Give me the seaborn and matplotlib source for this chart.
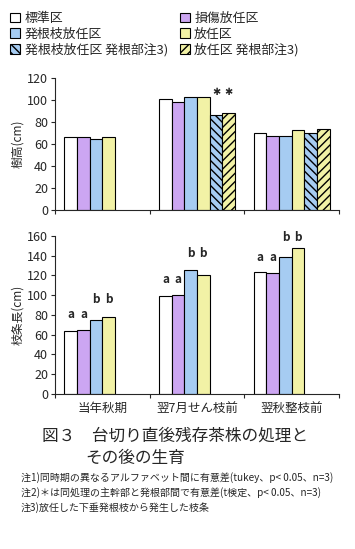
"""Figure 3: treatment of the remaining tea stumps after cutting and later growth."""
import matplotlib
matplotlib.use('Agg')
import matplotlib.pyplot as plt
import numpy as np
import pandas as pd
import seaborn as sns

sns.set_style('ticks')
plt.rcParams['font.family'] = ['Noto Sans CJK JP', 'DejaVu Sans']
plt.rcParams['hatch.linewidth'] = 1.0

nan = np.nan
periods = ['当年秋期', '翌7月せん枝前', '翌秋整枝前']
treatments = ['標準区', '損傷放任区', '発根枝放任区', '放任区',
              '発根枝放任区 発根部注3)', '放任区 発根部注3)']
colors = ['#FFFFFF', '#CC99FF', '#99CCFF', '#FFFF99', '#99CCFF', '#FFFF99']
hatches = ['', '', '', '', '\\\\\\\\', '////']

# 樹高 (cm)
height_std = [66.3, 100.9, 69.9]
height_dmg = [66.3, 98.2, 67.2]
height_root = [64.4, 102.7, 67.2]
height_free = [66.3, 102.7, 72.6]
height_root_part = [nan, 86.6, 69.9]
height_free_part = [nan, 88.4, 73.5]

# 枝条長 (cm)
length_std = [63.4, 98.7, 123.0]
length_dmg = [64.4, 99.8, 122.0]
length_root = [74.8, 125.0, 139.0]
length_free = [78.2, 120.0, 148.0]

letters = ['a', 'a', 'b', 'b']
letter_y = [[80, 80, 96, 96], [116, 116, 142, 142], [138, 138, 158, 158]]
star_period = 1
star_y = 107

notes = ['注1)同時期の異なるアルファベット間に有意差(tukey、p< 0.05、n=3)',
         '注2)＊は同処理の主幹部と発根部間で有意差(t検定、p< 0.05、n=3)',
         '注3)放任した下垂発根枝から発生した枝条']


def long_table(series):
    rows = []
    for name, vals in zip(treatments, series):
        for p, v in zip(periods, vals):
            rows.append({'period': p, 'treatment': name, 'value': v})
    return pd.DataFrame(rows)


def bar_at(container, period_idx):
    # bars of NaN rows are dropped, so look the bar up by position
    for bar in container:
        if round(bar.get_x() + bar.get_width() / 2) == period_idx:
            return bar


top = long_table([height_std, height_dmg, height_root, height_free,
                  height_root_part, height_free_part])
bottom = long_table([length_std, length_dmg, length_root, length_free,
                     [nan] * 3, [nan] * 3])

fig = plt.figure(figsize=(3.55, 5.49), dpi=100)
ax1 = fig.add_axes([0.155, 0.6175, 0.800, 0.2404])
ax2 = fig.add_axes([0.155, 0.2823, 0.800, 0.2883])

for ax, df in [(ax1, top), (ax2, bottom)]:
    sns.barplot(data=df, x='period', y='value', hue='treatment',
                order=periods, hue_order=treatments, palette=colors,
                width=0.8, edgecolor='black', linewidth=0.8,
                legend=False, ax=ax)
    for cont, h in zip(ax.containers, hatches):
        for bar in cont:
            bar.set_hatch(h)
    sns.despine(ax=ax)
    ax.set_xlim(-0.5, 2.5)
    ax.set_xticks([-0.5, 0.5, 1.5, 2.5])
    ax.set_xticklabels([])
    ax.tick_params(axis='x', length=3, width=0.8)
    ax.tick_params(axis='y', length=3, width=0.8, labelsize=9, pad=2)
    for s in ax.spines.values():
        s.set_linewidth(0.8)
    ax.set_xlabel('')

ax1.set_ylim(0, 120)
ax1.set_yticks(range(0, 121, 20))
ax1.set_ylabel('樹高(cm)', fontsize=8.5, labelpad=2)
ax2.set_ylim(0, 160)
ax2.set_yticks(range(0, 161, 20))
ax2.set_ylabel('枝条長(cm)', fontsize=8.5, labelpad=2)
for i, p in enumerate(periods):
    ax2.text(i, -15, p, ha='center', va='center', fontsize=9)

# significance letters above the first four bars of each period
for g in range(len(periods)):
    for k in range(4):
        bar = bar_at(ax2.containers[k], g)
        ax2.text(bar.get_x() + bar.get_width() / 2, letter_y[g][k], letters[k],
                 ha='center', va='center', fontsize=8.5, fontweight='bold')

# stars over the root-part bars
for k in (4, 5):
    bar = bar_at(ax1.containers[k], star_period)
    ax1.text(bar.get_x() + bar.get_width() / 2, star_y, '\u2731',
             ha='center', va='center', fontsize=7, family='DejaVu Sans')

# legend in two columns across the top
handles = [ax1.containers[k][0] for k in range(len(treatments))]
for cols, x in [((0, 2, 4), 0.0), ((1, 3, 5), 0.478)]:
    fig.legend([handles[k] for k in cols], [treatments[k] for k in cols],
               loc='upper left', bbox_to_anchor=(x, 0.997), frameon=False,
               fontsize=9.3, handlelength=0.75, handleheight=0.75,
               handletextpad=0.35, labelspacing=0.2, borderpad=0.3)

fig.text(42 / 355, 1 - 436 / 549, '図３　台切り直後残存茶株の処理と',
         fontsize=12, va='center', ha='left')
fig.text(85 / 355, 1 - 458 / 549, 'その後の生育',
         fontsize=12, va='center', ha='left')
for y, line in zip([478, 493, 508], notes):
    fig.text(21 / 355, 1 - y / 549, line, fontsize=7.2, va='center', ha='left')

fig.savefig('out.png', dpi=100)
